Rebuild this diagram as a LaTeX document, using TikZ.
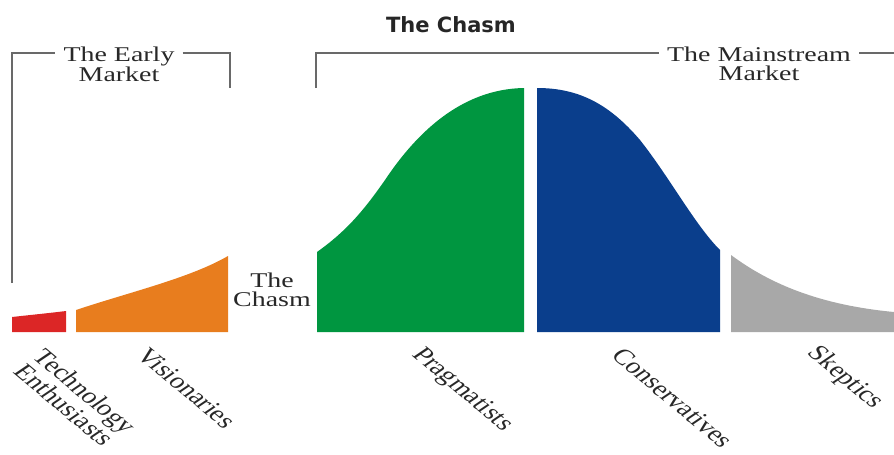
\documentclass[tikz,border=0pt]{standalone}
\usepackage{fontspec}
\setmainfont{Liberation Serif}
\newfontfamily\headfont{DejaVu Sans}
\usetikzlibrary{positioning,calc}
\definecolor{adoptred}{RGB}{220,38,38}
\definecolor{adoptorange}{RGB}{232,125,30}
\definecolor{adoptgreen}{RGB}{0,150,64}
\definecolor{adoptblue}{RGB}{10,62,140}
\definecolor{adoptgray}{RGB}{168,168,168}
\definecolor{inkgray}{RGB}{40,40,40}
\definecolor{rulegray}{RGB}{105,105,105}
\tikzset{
  mkt/.style    ={font=\fontsize{21}{18.5}\selectfont, text=inkgray, align=center,
                  xscale=1.33, inner xsep=6pt, inner ysep=2pt},
  seglbl/.style ={font=\fontsize{22}{21}\selectfont, text=inkgray, align=center,
                  xscale=1.33, rotate=-48, inner sep=1pt},
  bracket/.style={draw=rulegray, line width=1.8pt},
  heading/.style={font=\headfont\bfseries\fontsize{21}{24}\selectfont, text=black!85}
}

\begin{document}
\begin{tikzpicture}[x=1pt,y=-1pt]
\useasboundingbox (0,0) rectangle (894,455);
%% the bell curve, cut into the five groups
\fill[adoptred]    (12,332) -- (12,317) .. controls (30,315) and (50,313) .. (66,311)
                   -- (66,332) -- cycle;
\fill[adoptorange] (76,332) -- (76,310) .. controls (130,292) and (190,278) .. (228,256)
                   -- (228,332) -- cycle;
\fill[adoptgreen]  (317,332) -- (317,252) .. controls (345,232) and (362,213) .. (385,180)
                   .. controls (415,135) and (460,89) .. (524,88) -- (524,332) -- cycle;
\fill[adoptblue]   (537,332) -- (537,88) .. controls (580,88) and (610,105) .. (640,140)
                   .. controls (670,178) and (695,225) .. (720,250) -- (720,332) -- cycle;
\fill[adoptgray]   (731,332) -- (731,255) .. controls (770,284) and (820,305) .. (894,312)
                   -- (894,332) -- cycle;

%% headings and brackets
\node[heading] (title) at (451,25) {The Chasm};
\node[mkt] (early)      at (119,64) {The Early\\Market};
\node[mkt] (mainstream) at (759,64) {The Mainstream\\Market};
\node[mkt] (gap)        at (272,290) {The\\Chasm};
\coordinate (rule) at (0,53);
\coordinate (earlyfoot) at (12,283);
\coordinate (earlyend)  at (230,88);
\coordinate (mainfoot)  at (316,88);
\coordinate (mainend)   at (894,53);

\draw[bracket] (earlyfoot) |- (early.west |- rule);
\draw[bracket] (early.east |- rule) -| (earlyend);
\draw[bracket] (mainfoot) |- (mainstream.west |- rule);
\draw[bracket] (mainstream.east |- rule) -- (mainend);

%% group names under the curve
\node[seglbl] (techies)  at (75,398)  {Technology\\Enthusiasts};
\node[seglbl] (visions)  at (187,388) {Visionaries};
\node[seglbl] (pragma)   at (462,390) {Pragmatists};
\node[seglbl] (conserv)  at (673,398) {Conservatives};
\node[seglbl] (skeptic)  at (845,378) {Skeptics};
\end{tikzpicture}
\end{document}
